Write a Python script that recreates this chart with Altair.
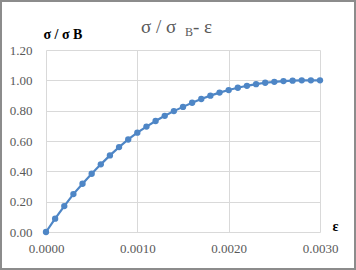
import altair as alt
import pandas as pd

strain = [i * 0.0001 for i in range(31)]
stress_ratio = [0.000, 0.088, 0.171, 0.250, 0.318, 0.384, 0.446, 0.505, 0.560, 0.610,
                0.655, 0.695, 0.732, 0.766, 0.797, 0.825, 0.852, 0.877, 0.899, 0.919,
                0.936, 0.951, 0.964, 0.975, 0.984, 0.990, 0.995, 0.998, 1.000, 1.000, 1.000]
x_ticks = [0.0, 0.001, 0.002, 0.003]
y_ticks = [0.0, 0.2, 0.4, 0.6, 0.8, 1.0, 1.2]

df = pd.DataFrame({"eps": strain, "ratio": stress_ratio})

SERIF = "Liberation Serif, Times New Roman, serif"
GRAY = "#595959"
BLUE = "#4e86c6"

base = alt.Chart(df).encode(
    x=alt.X("eps:Q", scale=alt.Scale(domain=[0, 0.003], nice=False, zero=False),
            axis=alt.Axis(values=x_ticks, format=".4f", title="ε",
                          labelFont=SERIF, titleFont=SERIF,
                          labelOverlap=False, labelFlush=False, grid=True,
                          titleX=289, titleY=-2, titleAlign="center",
                          titleBaseline="alphabetic", titleAngle=0)),
    y=alt.Y("ratio:Q", scale=alt.Scale(domain=[0, 1.2], nice=False),
            axis=alt.Axis(values=y_ticks, format=".2f", title="σ / σ B",
                          labelFont=SERIF, titleFont=SERIF,
                          labelOverlap=False, labelFlush=False, grid=True,
                          titleX=-3, titleY=-12, titleAlign="left",
                          titleBaseline="alphabetic", titleAngle=0)),
)

line = base.mark_line(color=BLUE, strokeWidth=2.2)
points = base.mark_point(filled=True, color=BLUE, size=40, opacity=1)

t1 = alt.Chart(pd.DataFrame({"t": ["σ / σ"]})).mark_text(
    font=SERIF, fontSize=19, color=GRAY, align="left", baseline="alphabetic"
).encode(x=alt.value(95), y=alt.value(-17), text="t:N")
t2 = alt.Chart(pd.DataFrame({"t": ["B"]})).mark_text(
    font=SERIF, fontSize=12, color=GRAY, align="left", baseline="alphabetic"
).encode(x=alt.value(139), y=alt.value(-14), text="t:N")
t3 = alt.Chart(pd.DataFrame({"t": ["- ε"]})).mark_text(
    font=SERIF, fontSize=19, color=GRAY, align="left", baseline="alphabetic"
).encode(x=alt.value(147), y=alt.value(-17), text="t:N")

frame = alt.Chart(pd.DataFrame({"a": [0]})).mark_rect(
    fill=None, stroke="#8c8c8c", strokeWidth=2, clip=False
).encode(x=alt.value(-45), x2=alt.value(309), y=alt.value(-49), y2=alt.value(219))

chart = alt.layer(line, points, t1, t2, t3, frame).properties(
    width=274, height=182,
    autosize=alt.AutoSizeParams(type="none"),
    padding={"left": 46, "top": 50, "right": 36, "bottom": 38},
    background="white",
).configure_view(stroke=None).configure_axis(
    grid=True, gridColor="#d9d9d9", gridWidth=1, domain=False, ticks=False,
    labelFont=SERIF, labelFontSize=13, labelColor=GRAY,
    titleFont=SERIF, titleFontSize=14, titleFontWeight="bold", titleColor="#000000",
).configure_axisY(labelPadding=14).configure_axisX(labelPadding=10)

chart.save("out.html", embed_options={"renderer": "svg", "actions": False})
